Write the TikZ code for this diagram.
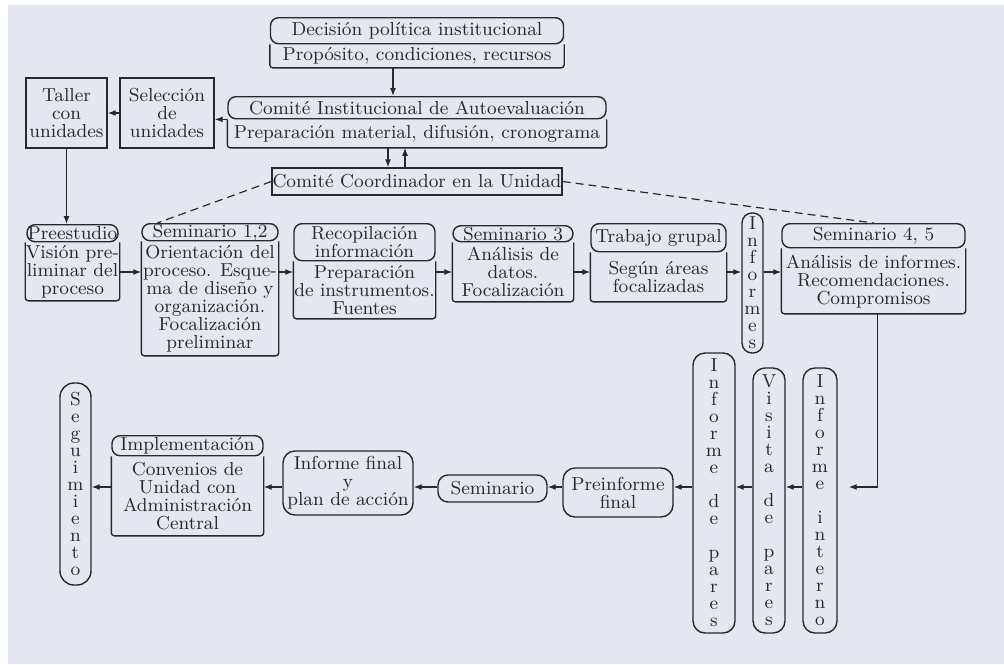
\documentclass[tikz,border=0pt]{standalone}
\usetikzlibrary{positioning, arrows.meta}

\definecolor{paper}{RGB}{229,231,240}
\definecolor{ink}{RGB}{40,40,46}

\begin{document}
\begin{tikzpicture}[
    x=0.5pt, y=-0.5pt,
    base/.style={draw=ink, line width=0.7pt, text=ink, align=center, inner sep=0pt,
                 font=\fontsize{9.4}{9}\selectfont},
    head/.style={base, rounded corners=4pt, anchor=north},
    body/.style={base, draw=none},
    plain/.style={base},
    pill/.style={base, rounded corners=6pt, font=\fontsize{9.4}{8.5}\selectfont},
    arr/.style={-{Latex[length=4pt, width=3pt]}, line width=0.6pt, draw=ink},
    dashline/.style={dash pattern=on 4pt off 2.5pt, line width=0.6pt, draw=ink},
    outline/.style={draw=ink, line width=0.7pt, rounded corners=1.5pt},
]

\useasboundingbox (0,0) rectangle (1004,664);
\fill[white] (0,0) rectangle (1004,664);
\fill[paper] (8,5) rectangle (1004,664);

% Top
\node[head, minimum width=146.5pt, minimum height=13pt] (dech) at (417,17) {Decisión política institucional};
\node[body, minimum width=146.5pt, minimum height=11pt, below=0pt of dech] (decb) {Propósito, condiciones, recursos};

\node[head, minimum width=189pt, minimum height=11pt] (ciah) at (417,96) {Comité Institucional de Autoevaluación};
\node[body, minimum width=189pt, minimum height=13.5pt, below=0pt of ciah] (ciab) {Preparación material, difusión, cronograma};

\node[plain, minimum width=145pt, minimum height=13.5pt] (coord) at (417,181.5) {Comité Coordinador en la Unidad};

\node[plain, minimum width=47pt, minimum height=35pt] (sel) at (167,113) {Selección\\de\\unidades};
\node[plain, minimum width=40.5pt, minimum height=35pt] (tal) at (66.5,113) {Taller\\con\\unidades};

% Middle row
\node[head, minimum width=45.5pt, minimum height=8.5pt] (preh) at (72.5,224) {Preestudio};
\node[body, minimum width=45.5pt, minimum height=28.5pt, below=0pt of preh] (preb) {Visión pre-\\liminar del\\proceso};

\node[head, minimum width=68pt, minimum height=8.5pt] (s12h) at (210,223) {Seminario 1,2};
\node[body, minimum width=68pt, minimum height=56.5pt, below=0pt of s12h] (s12b) {Orientación del\\proceso. Esque-\\ma de diseño y\\organización.\\Focalización\\preliminar};

\node[head, minimum width=70.5pt, minimum height=18.5pt] (rech) at (364.5,223) {Recopilación\\información};
\node[body, minimum width=70.5pt, minimum height=28pt, below=0pt of rech] (recb) {Preparación\\de instrumentos.\\Fuentes};

\node[head, minimum width=60pt, minimum height=8pt] (s3h) at (513,225) {Seminario 3};
\node[body, minimum width=60pt, minimum height=29pt, below=0pt of s3h] (s3b) {Análisis de\\datos.\\Focalización};

\node[head, minimum width=67.5pt, minimum height=14pt] (trabh) at (658.5,223) {Trabajo grupal};
\node[body, minimum width=67.5pt, minimum height=24pt, below=0pt of trabh] (trabb) {Según áreas\\focalizadas};

\node[pill, rounded corners=5pt, minimum width=10.5pt, minimum height=70pt] (inf) at (752.5,283) {I\\n\\f\\o\\r\\m\\e\\s};

\node[head, minimum width=91.5pt, minimum height=12pt] (s45h) at (873.5,223) {Seminario 4, 5};
\node[body, minimum width=91.5pt, minimum height=32pt, below=0pt of s45h] (s45b) {Análisis de informes.\\Recomendaciones.\\Compromisos};

% Bottom row
\node[pill, minimum width=17pt, minimum height=132.5pt] (intn) at (820,500.5) {I\\n\\f\\o\\r\\m\\e\\[8.5pt]i\\n\\t\\e\\r\\n\\o};
\node[pill, minimum width=16pt, minimum height=132.5pt] (vis) at (769,500.5) {V\\i\\s\\i\\t\\a\\[8.5pt]d\\e\\[8.5pt]p\\a\\r\\e\\s};
\node[pill, minimum width=21pt, minimum height=140pt] (par) at (714,493) {I\\n\\f\\o\\r\\m\\e\\[8.5pt]d\\e\\[8.5pt]p\\a\\r\\e\\s};
\node[plain, rounded corners=6pt, minimum width=55pt, minimum height=24.5pt] (pref) at (618,492.5) {Preinforme\\final};
\node[plain, rounded corners=5pt, minimum width=54.5pt, minimum height=13.5pt] (sem) at (492.5,488.5) {Seminario};
\node[plain, rounded corners=6pt, minimum width=65pt, minimum height=32pt] (ifin) at (348,483) {Informe final\\y\\plan de acción};
\node[head, minimum width=75.5pt, minimum height=10pt] (implh) at (187.5,435) {Implementación};
\node[body, minimum width=75.5pt, minimum height=39pt, below=0pt of implh] (implb) {Convenios de\\Unidad con\\Administración\\Central};
\node[pill, rounded corners=7pt, minimum width=15.5pt, minimum height=101pt] (seg) at (75.5,484) {S\\e\\g\\u\\i\\m\\i\\e\\n\\t\\o};

% Open body outlines below the headers
\foreach \b in {decb, ciab, preb, s12b, recb, s3b, trabb, s45b, implb}
  \draw[outline] (\b.north west) |- (\b.south east) -- (\b.north east);

% Top arrows
\draw[arr] ([xshift=-12pt]decb.south) -- ([xshift=-12pt]ciah.north);
\draw[arr] ([xshift=-14.5pt]ciab.south) -- ([xshift=-14.5pt]coord.north);
\draw[arr] ([xshift=-6pt]coord.north) -- ([xshift=-6pt]ciab.south);
\draw[arr] (ciah.south west) -- (ciah.south west -| sel.east);
\draw[arr] (sel.west) -- (tal.east);
\draw[arr] (tal.south) -- (tal.south |- preh.north);

% Dashed links
\draw[dashline] (coord.west) -- ([xshift=8pt]s12h.north west);
\draw[dashline] (coord.east) -- (s45h.north);

% Row arrows
\coordinate (row) at (0,272);
\coordinate (brow) at (0,487);
\foreach \a/\b in {preb/s12b, s12b/recb, recb/s3b, s3b/trabb, trabb/inf, inf/s45b}
  \draw[arr] (\a.east |- row) -- (\b.west |- row);

\draw[arr] ([xshift=2pt]s45b.south) |- ([xshift=5.5pt]intn.east |- brow);
\foreach \a/\b in {intn/vis, vis/par, par/pref, pref/sem, sem/ifin, ifin/implb, implb/seg}
  \draw[arr] (\a.west |- brow) -- (\b.east |- brow);

\end{tikzpicture}
\end{document}
